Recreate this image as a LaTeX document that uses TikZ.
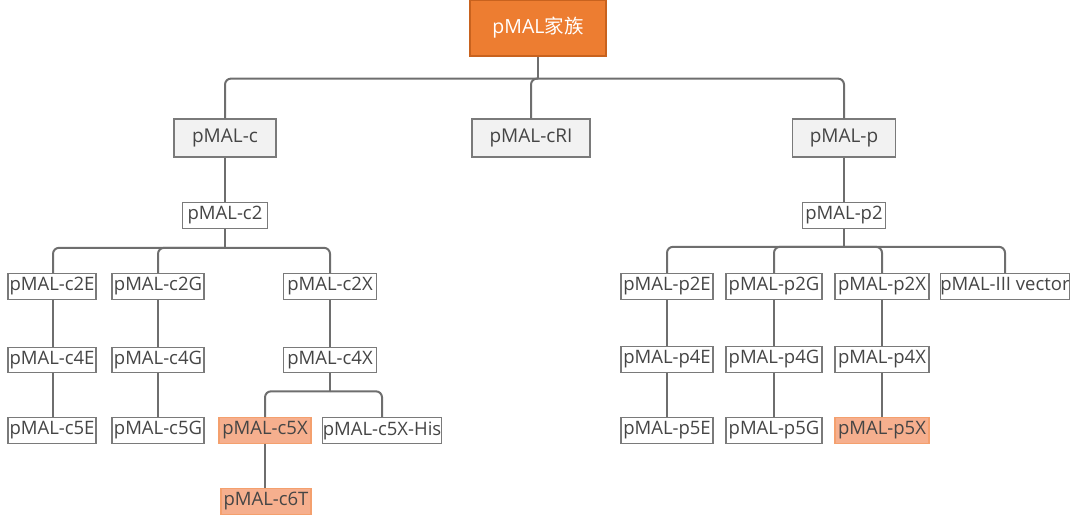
\documentclass[tikz,border=0pt]{standalone}
\usepackage{fontspec}
\setmainfont{Open Sans}
\newfontfamily\cjk{Noto Sans CJK SC}
\definecolor{boxgray}{HTML}{7A7A7A}
\definecolor{linegray}{HTML}{6E6E6E}
\definecolor{txt}{HTML}{454545}
\definecolor{lvlfill}{HTML}{F2F2F2}
\definecolor{rootfill}{HTML}{ED7D31}
\definecolor{rootdraw}{HTML}{C8621E}
\definecolor{hlfill}{HTML}{F6AF8E}
\definecolor{hldraw}{HTML}{F4A06E}
\tikzset{
  base/.style={draw=boxgray, line width=1.2pt, text=txt, inner sep=0pt, anchor=center,
    font=\fontsize{18.5}{22}\selectfont},
  rootbox/.style={base, fill=rootfill, draw=rootdraw, text=white,
    minimum width=136pt, minimum height=56pt, font=\fontsize{19.5}{22}\selectfont},
  topbox/.style={base, fill=lvlfill, minimum height=38pt, font=\fontsize{19}{22}\selectfont},
  leaf/.style={base, fill=white, minimum height=25.5pt},
  hl/.style={base, fill=hlfill, draw=hldraw, minimum height=25.5pt},
  conn/.style={draw=linegray, line width=2pt, rounded corners=6pt},
}
\begin{document}
\begin{tikzpicture}[x=1pt,y=-1pt]
\path[use as bounding box] (0,0) rectangle (1080,521);
% nodes
\node[rootbox] (root) at (538,28) {pMAL{\cjk 家族}};
\node[topbox, minimum width=102pt] (c) at (225,138) {pMAL-c};
\node[topbox, minimum width=118pt] (cri) at (531,138) {pMAL-cRI};
\node[topbox, minimum width=103pt] (p) at (844,138) {pMAL-p};
\node[leaf, minimum width=85pt] (c2) at (225,215.5) {pMAL-c2};
\node[leaf, minimum width=83pt] (p2) at (844,215.5) {pMAL-p2};
% left rows
\node[leaf, minimum width=88pt] (c2e) at (52,286.5) {pMAL-c2E};
\node[leaf, minimum width=92pt] (c2g) at (158,286.5) {pMAL-c2G};
\node[leaf, minimum width=93pt] (c2x) at (330,286.5) {pMAL-c2X};
\node[leaf, minimum width=88pt] (c4e) at (52,360) {pMAL-c4E};
\node[leaf, minimum width=92pt] (c4g) at (158,360) {pMAL-c4G};
\node[leaf, minimum width=93pt] (c4x) at (330,360) {pMAL-c4X};
\node[leaf, minimum width=88pt] (c5e) at (52,430.5) {pMAL-c5E};
\node[leaf, minimum width=92pt] (c5g) at (158,430.5) {pMAL-c5G};
\node[hl, minimum width=92pt] (c5x) at (265,430.5) {pMAL-c5X};
\node[leaf, minimum width=119pt] (c5xh) at (382,430.5) {pMAL-c5X-His};
\node[hl, minimum width=90pt] (c6t) at (266,501.5) {pMAL-c6T};
% right rows
\node[leaf, minimum width=92pt] (p2e) at (667,286.5) {pMAL-p2E};
\node[leaf, minimum width=96pt] (p2g) at (774,286.5) {pMAL-p2G};
\node[leaf, minimum width=94pt] (p2x) at (882,286.5) {pMAL-p2X};
\node[leaf, minimum width=125pt] (p3) at (1005,286.5) {pMAL-III vector};
\node[leaf, minimum width=92pt] (p4e) at (667,359.5) {pMAL-p4E};
\node[leaf, minimum width=96pt] (p4g) at (774,359.5) {pMAL-p4G};
\node[leaf, minimum width=94pt] (p4x) at (882,359.5) {pMAL-p4X};
\node[leaf, minimum width=92pt] (p5e) at (667,430.5) {pMAL-p5E};
\node[leaf, minimum width=96pt] (p5g) at (774,430.5) {pMAL-p5G};
\node[hl, minimum width=94pt] (p5x) at (882,430.5) {pMAL-p5X};
% connectors: root level
\draw[conn] (root.south) -- ++(0,22) coordinate (jr);
\draw[conn] (jr) -| (c.north);
\draw[conn] (jr) -| (cri.north);
\draw[conn] (jr) -| (p.north);
\draw[conn] (c.south) -- (c2.north);
\draw[conn] (p.south) -- (p2.north);
% c2 bus
\draw[conn] (c2.south) -- ++(0,19) coordinate (jc2);
\draw[conn] (jc2) -| ([xshift=1pt]c2e.north);
\draw[conn] (jc2) -| (c2g.north);
\draw[conn] (jc2) -| (c2x.north);
\draw[conn] ([xshift=1pt]c2e.south) -- ([xshift=1pt]c4e.north);
\draw[conn] ([xshift=1pt]c4e.south) -- ([xshift=1pt]c5e.north);
\draw[conn] (c2g.south) -- (c4g.north);
\draw[conn] (c4g.south) -- (c5g.north);
\draw[conn] (c2x.south) -- (c4x.north);
% c4x bus
\draw[conn] (c4x.south) -- ++(0,18) coordinate (jc4);
\draw[conn] (jc4) -| (c5x.north);
\draw[conn] (jc4) -| (c5xh.north);
\draw[conn] (c5x.south) -- (c5x.south |- c6t.north);
% p2 bus
\draw[conn] (p2.south) -- ++(0,18) coordinate (jp2);
\draw[conn] (jp2) -| (p2e.north);
\draw[conn] (jp2) -| (p2g.north);
\draw[conn] (jp2) -| (p2x.north);
\draw[conn] (jp2) -| (p3.north);
\draw[conn] (p2e.south) -- (p4e.north);
\draw[conn] (p4e.south) -- (p5e.north);
\draw[conn] (p2g.south) -- (p4g.north);
\draw[conn] (p4g.south) -- (p5g.north);
\draw[conn] (p2x.south) -- (p4x.north);
\draw[conn] (p4x.south) -- (p5x.north);
\end{tikzpicture}
\end{document}
